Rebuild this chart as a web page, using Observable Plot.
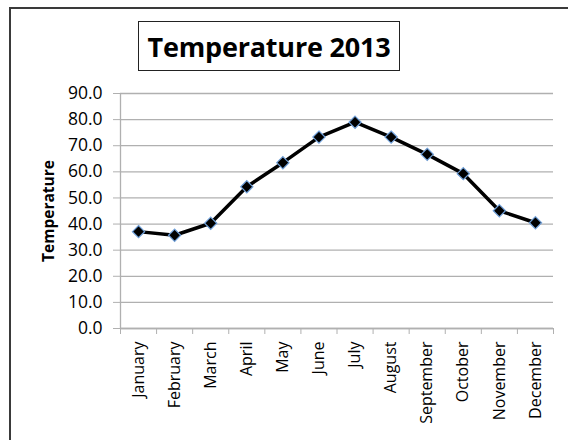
<!DOCTYPE html>
<html>
<head>
<meta charset="utf-8">
<script src="https://cdn.jsdelivr.net/npm/d3@7"></script>
<script src="https://cdn.jsdelivr.net/npm/@observablehq/plot@0.6"></script>
<style>
  html, body { margin: 0; padding: 0; background: #fff; }
  #wrap { position: relative; width: 568px; height: 440px; overflow: hidden; font-family: "Open Sans", sans-serif; }
  #frame { position: absolute; left: 9px; top: 7px; width: 620px; height: 500px; border: 2px solid #3a3a3a; box-sizing: border-box; }
  #title { position: absolute; left: 138px; top: 21px; width: 262px; height: 50px; border: 1.5px solid #222; box-sizing: border-box;
           display: flex; align-items: center; justify-content: center; font-weight: bold; font-size: 27px; color: #000; background: #fff; letter-spacing: -0.2px; }
  #chart { position: absolute; left: 0; top: 0; }
</style>
</head>
<body>
<div id="wrap">
  <div id="frame"></div>
  <div id="chart"></div>
  <div id="title">Temperature 2013</div>
</div>
<script>
const months = ["January","February","March","April","May","June","July","August","September","October","November","December"];
const temps = [37.1, 35.7, 40.3, 54.3, 63.5, 73.3, 79.0, 73.3, 66.7, 59.3, 45.1, 40.5];
const yTicks = [0, 10, 20, 30, 40, 50, 60, 70, 80, 90];
const yLabel = "Temperature";

const data = months.map((m, i) => ({month: m, pos: i + 0.5, temp: temps[i]}));
const boundaries = d3.range(months.length + 1);
const gray = "#b0b0b0";

const chart = Plot.plot({
  width: 568,
  height: 440,
  marginLeft: 120,
  marginRight: 15,
  marginTop: 93,
  marginBottom: 112,
  style: {fontFamily: "'Open Sans', sans-serif", fontSize: "16px", color: "#000", background: "transparent"},
  x: {type: "linear", domain: [0, months.length]},
  y: {domain: [0, 90]},
  marks: [
    Plot.gridY(yTicks, {stroke: gray, strokeOpacity: 1, strokeWidth: 1.3}),
    Plot.axisY(yTicks, {tickFormat: d3.format(".1f"), tickSize: 7, tickPadding: 11, stroke: gray, strokeOpacity: 1, fill: "#000", fontSize: 17.5, label: null}),
    Plot.ruleX([0], {stroke: gray, strokeWidth: 1.3}),
    Plot.ruleY([0], {stroke: gray, strokeWidth: 1.3}),
    Plot.axisX(boundaries, {tickSize: 6, tickFormat: () => "", stroke: gray, strokeOpacity: 1, label: null}),
    Plot.axisX(data.map(d => d.pos), {tickSize: 0, tickPadding: 13, tickRotate: -90, tickFormat: (d, i) => months[i], fill: "#000", fontSize: 16, label: null}),
    Plot.text([yLabel], {frameAnchor: "left", textAnchor: "middle", lineAnchor: "middle", dx: -71, rotate: -90, fontWeight: "bold", fontSize: 15.5, fill: "#000"}),
    Plot.line(data, {x: "pos", y: "temp", stroke: "#000", strokeWidth: 3.5}),
    Plot.dot(data, {x: "pos", y: "temp", symbol: "diamond2", r: 5.5, fill: "#000", stroke: "#6f9fd8", strokeWidth: 1.2})
  ]
});
document.getElementById("chart").appendChild(chart);
</script>
</body>
</html>
